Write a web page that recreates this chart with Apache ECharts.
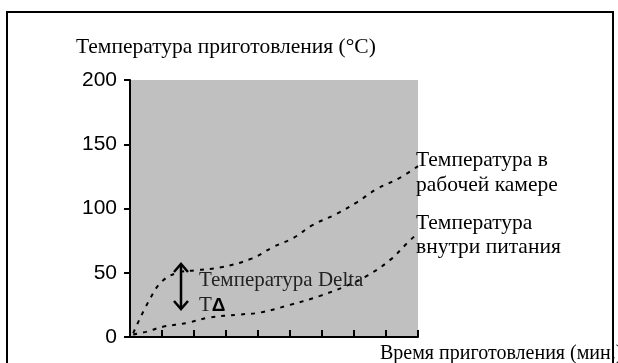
<!DOCTYPE html>
<html>
<head>
<meta charset="utf-8">
<script src="https://cdn.jsdelivr.net/npm/echarts@6/dist/echarts.min.js"></script>
<style>
  html, body { margin: 0; padding: 0; background: #fff; }
  #chart { width: 618px; height: 363px; }
</style>
</head>
<body>
<div id="chart"></div>
<script>
// Cooking time, in axis steps (0..9)
const chamberMinutes = [0.1, 0.63, 1.03, 1.5, 2.06, 2.8, 3.8, 4.47, 5.1, 5.7, 6.47, 7.1, 7.7, 8.44, 9];
// Temperature in the working chamber, °C
const chamberTemps   = [3, 30, 44, 50, 52, 54, 61, 70, 77, 87, 96, 105, 115, 124, 133];

const foodMinutes = [0.1, 0.5, 1.03, 1.8, 2.44, 3.44, 4.06, 5, 5.94, 6.78, 7.4, 8.13, 8.66, 9];
// Core temperature of the food, °C
const foodTemps   = [2, 4, 8, 11, 15, 17.5, 19, 25, 32, 40, 47.5, 60, 73, 81];

const yTicks = [0, 50, 100, 150, 200];

const pairs = (xs, ys) => xs.map((x, i) => [x, ys[i]]);

const serif = '"Liberation Serif", "Times New Roman", serif';
const sans = '"Liberation Sans", Arial, sans-serif';

const dashStyle = { color: '#000', width: 2, type: [4, 6], cap: 'butt' };

const chart = echarts.init(document.getElementById('chart'), null, { renderer: 'canvas' });

chart.setOption({
  animation: false,
  backgroundColor: '#fff',
  grid: {
    left: 130, right: 200, top: 80, bottom: 26,
    show: true, backgroundColor: '#c0c0c0', borderWidth: 0
  },
  xAxis: {
    type: 'value', min: 0, max: 9, interval: 1,
    axisLine: { show: true, lineStyle: { color: '#000', width: 2 } },
    axisTick: { show: true, inside: true, length: 7, lineStyle: { color: '#000', width: 2 } },
    axisLabel: { show: false },
    splitLine: { show: false }
  },
  yAxis: {
    type: 'value', min: yTicks[0], max: yTicks[yTicks.length - 1], interval: 50,
    axisLine: { show: true, lineStyle: { color: '#000', width: 2 } },
    axisTick: { show: true, length: 6, lineStyle: { color: '#000', width: 2 } },
    axisLabel: { color: '#000', fontFamily: sans, fontSize: 21, margin: 13 },
    splitLine: { show: false }
  },
  series: [
    {
      name: 'Температура в рабочей камере',
      type: 'line', smooth: 0.4, symbol: 'none',
      data: pairs(chamberMinutes, chamberTemps),
      lineStyle: dashStyle,
      endLabel: {
        show: true, formatter: 'Температура в\nрабочей камере',
        color: '#000', fontFamily: serif, fontSize: 21.5, lineHeight: 25,
        align: 'left', distance: 0, offset: [-2, 7]
      }
    },
    {
      name: 'Температура внутри питания',
      type: 'line', smooth: 0.4, symbol: 'none',
      data: pairs(foodMinutes, foodTemps),
      lineStyle: dashStyle,
      endLabel: {
        show: true, formatter: 'Температура\nвнутри питания',
        color: '#000', fontFamily: serif, fontSize: 21.5, lineHeight: 24,
        align: 'left', distance: 0, offset: [-2, 2]
      }
    }
  ],
  graphic: [
    {
      type: 'text', left: 76, top: 36,
      style: { text: 'Температура приготовления (°C)', fill: '#000', font: '21.5px ' + serif }
    },
    {
      type: 'text', left: 380, top: 344,
      style: { text: 'Время приготовления (мин.)', fill: '#000', font: '20px ' + serif }
    },
    // ΔT annotation: double-headed arrow and caption
    {
      type: 'group', z: 50,
      children: [
        { type: 'line', shape: { x1: 181, y1: 264, x2: 181, y2: 309 }, style: { stroke: '#000', lineWidth: 2.5 } },
        { type: 'polyline', shape: { points: [[174, 272], [181, 264], [188, 272]] }, style: { stroke: '#000', lineWidth: 2.5, fill: null } },
        { type: 'polyline', shape: { points: [[174, 301], [181, 309], [188, 301]] }, style: { stroke: '#000', lineWidth: 2.5, fill: null } }
      ]
    },
    {
      type: 'text', left: 199, top: 268, z: 50,
      style: {
        text: 'Температура Delta\n{t|T}{d|Δ}',
        fill: '#222', font: '21px ' + serif, lineHeight: 25,
        rich: {
          t: { fill: '#222', fontFamily: serif, fontSize: 21, lineHeight: 25 },
          d: { fill: '#000', fontFamily: sans, fontSize: 19, fontWeight: 'bold', lineHeight: 25 }
        }
      }
    },
    // outer frame
    {
      type: 'rect', z: 100,
      shape: { x: 7, y: 12, width: 606, height: 400 },
      style: { fill: null, stroke: '#000', lineWidth: 2 }
    }
  ]
});
</script>
</body>
</html>
